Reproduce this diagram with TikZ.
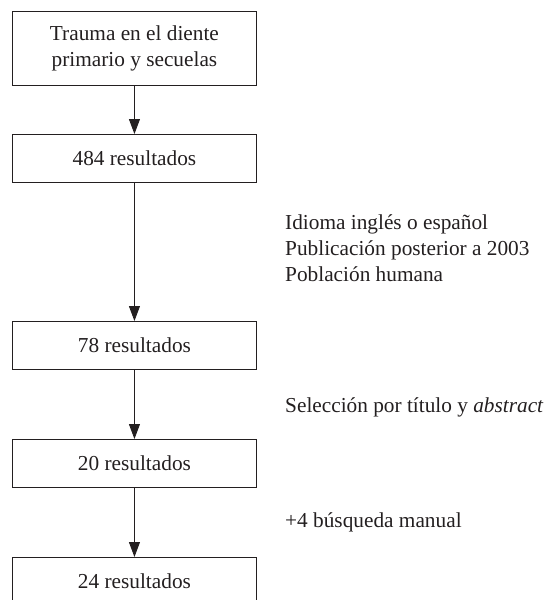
\documentclass[tikz,border=0pt]{standalone}
\usepackage{fontspec}
\setmainfont{Liberation Serif}
\usetikzlibrary{arrows.meta}
\definecolor{ink}{HTML}{231F20}
\begin{document}
\begin{tikzpicture}[x=1pt,y=-1pt,
  stepbox/.style={draw=ink,line width=0.9pt,minimum width=244pt,inner sep=0pt,text=ink,font=\fontsize{21.3}{26.5}\selectfont,align=center,anchor=north west},
  flow/.style={draw=ink,line width=0.9pt,-{Triangle[length=15pt,width=11pt]}},
  note/.style={anchor=west,text=ink,font=\fontsize{21.3}{26}\selectfont,align=left,inner sep=0pt}]
\useasboundingbox (0,0) rectangle (545,600);
\clip (0,0) rectangle (545,600);
\node[stepbox,minimum height=74pt] (b1) at (12,11) {Trauma en el diente\\primario y secuelas};
\node[stepbox,minimum height=48pt] (b2) at (12,134) {484 resultados};
\node[stepbox,minimum height=48pt] (b3) at (12,321) {78 resultados};
\node[stepbox,minimum height=48pt] (b4) at (12,439) {20 resultados};
\node[stepbox,minimum height=48pt] (b5) at (12,557) {24 resultados};
\draw[flow] (b1) -- (b2);
\draw[flow] (b2) -- (b3);
\draw[flow] (b3) -- (b4);
\draw[flow] (b4) -- (b5);
\node[note] (n1) at (285,248) {Idioma inglés o español\\Publicación posterior a 2003\\Población humana};
\node[note] (n2) at (285,407) {Selección por título y \textit{abstract}};
\node[note] (n3) at (285,522) {+4 búsqueda manual};
\end{tikzpicture}
\end{document}
